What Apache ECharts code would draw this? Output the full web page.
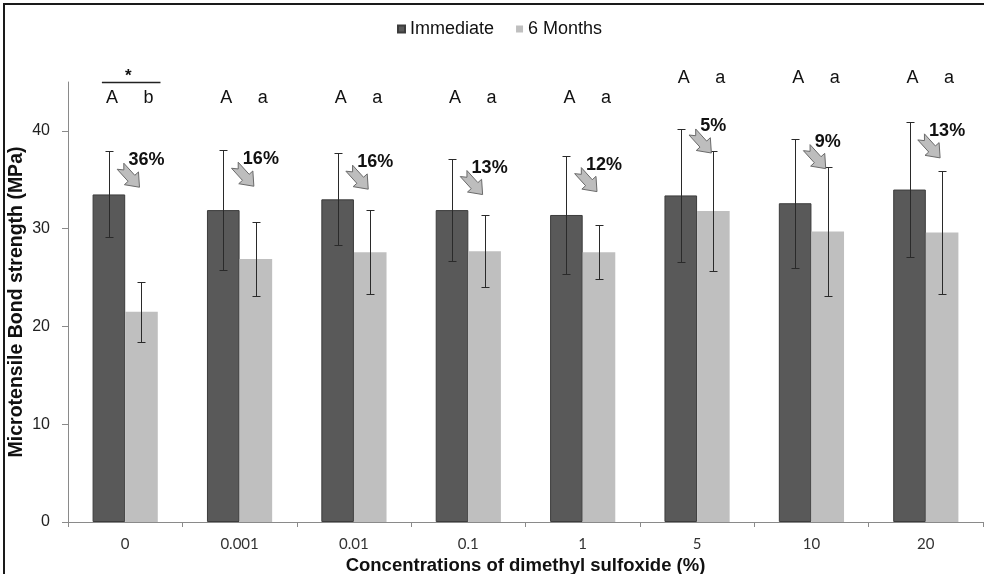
<!DOCTYPE html>
<html>
<head>
<meta charset="utf-8">
<script src="https://cdn.jsdelivr.net/npm/echarts@6/dist/echarts.min.js"></script>
<style>
  html, body { margin: 0; padding: 0; background: #fff; }
  #chart { width: 984px; height: 574px; }
</style>
</head>
<body>
<div id="chart"></div>
<script>
// Microtensile bond strength (MPa) per DMSO concentration, mean and SD
const categories = ['0', '0.001', '0.01', '0.1', '1', '5', '10', '20'];
const immediateMean = [33.5, 31.9, 33.0, 31.9, 31.4, 33.4, 32.6, 34.0];
const immediateSD = [4.4, 6.1, 4.7, 5.25, 6.05, 6.8, 6.6, 6.9];
const monthsMean = [21.5, 26.9, 27.6, 27.7, 27.6, 31.8, 29.7, 29.6];
const monthsSD = [3.05, 3.8, 4.3, 3.7, 2.75, 6.1, 6.6, 6.3];
// reduction after ageing, and statistical grouping letters
const reductionLabels = ['36%', '16%', '16%', '13%', '12%', '5%', '9%', '13%'];
const immediateGroups = ['A', 'A', 'A', 'A', 'A', 'A', 'A', 'A'];
const monthsGroups = ['b', 'a', 'a', 'a', 'a', 'a', 'a', 'a'];
const yTicks = [0, 10, 20, 30, 40];

const DARK = '#595959';
const LIGHT = '#bfbfbf';
const CAT_GAP = 0.43;
const FONT = '"Liberation Sans", Arial, sans-serif';

function barGeometry(api, i) {
  const band = api.size([1, 0])[0];
  const barW = band * (1 - CAT_GAP) / 2;
  const cx = api.coord([i, 0])[0];
  return { barW, darkX: cx - barW / 2, lightX: cx + barW / 2 };
}

function errorBars(name, means, sds, side) {
  return {
    type: 'custom',
    name: name,
    silent: true,
    clip: false,
    z: 5,
    data: means.map((m, i) => [i, m, sds[i]]),
    encode: { x: 0, y: 1 },
    renderItem(params, api) {
      const i = api.value(0), m = api.value(1), sd = api.value(2);
      const g = barGeometry(api, i);
      const x = Math.round(side < 0 ? g.darkX : g.lightX) + 0.5;
      const top = Math.round(api.coord([i, m + sd])[1]) + 0.5;
      const bot = Math.round(api.coord([i, m - sd])[1]) + 0.5;
      const cap = 4;
      const st = { stroke: '#2a2a2a', lineWidth: 1 };
      return {
        type: 'group',
        children: [
          { type: 'line', shape: { x1: x, y1: top, x2: x, y2: bot }, style: st },
          { type: 'line', shape: { x1: x - cap, y1: top, x2: x + cap, y2: top }, style: st },
          { type: 'line', shape: { x1: x - cap, y1: bot, x2: x + cap, y2: bot }, style: st }
        ]
      };
    }
  };
}

function arrowPoints(sx, sy, tx, ty) {
  const dx = tx - sx, dy = ty - sy;
  const L = Math.sqrt(dx * dx + dy * dy);
  const ux = dx / L, uy = dy / L, nx = -uy, ny = ux;
  const P = (a, b) => [sx + ux * a + nx * b, sy + uy * a + ny * b];
  const h = 12, sw = 4.5, hw = 9.5;
  return [P(0, -sw), P(L - h, -sw), P(L - h, -hw), P(L, 0), P(L - h, hw), P(L - h, sw), P(0, sw), P(5, 0)];
}

const annotations = {
  type: 'custom',
  name: 'annotations',
  silent: true,
  clip: false,
  z: 10,
  data: categories.map((c, i) => [i, 0]),
  encode: { x: 0, y: 1 },
  renderItem(params, api) {
    const i = api.value(0);
    const g = barGeometry(api, i);
    const darkUp = immediateMean[i] + immediateSD[i];
    const lightUp = monthsMean[i] + monthsSD[i];
    const children = [];

    // percentage drop with arrow pointing to the aged bar
    const labelVal = Math.max(darkUp - 0.9, lightUp + 2.6);
    const ly = api.coord([i, labelVal])[1];
    const lc = g.lightX;
    children.push({
      type: 'polygon',
      shape: { points: arrowPoints(lc - 21, ly + 6, lc - 2, ly + 27) },
      style: { fill: '#bdbdbd', stroke: '#6a6a6a', lineWidth: 1 }
    });
    children.push({
      type: 'text',
      style: {
        text: reductionLabels[i], x: lc - 13, y: ly, fill: '#111',
        font: 'bold 18px ' + FONT, align: 'left', verticalAlign: 'middle'
      }
    });

    // grouping letters sit on one of two rows depending on error bar reach
    const rowVal = Math.max(darkUp, lightUp) > 39 ? 45.4 : 43.4;
    const letterY = api.coord([i, rowVal])[1];
    const ax = g.darkX + 3, bx = g.lightX + 7;
    children.push({
      type: 'text',
      style: { text: immediateGroups[i], x: ax, y: letterY, fill: '#111',
        font: '18px ' + FONT, align: 'center', verticalAlign: 'middle' }
    });
    children.push({
      type: 'text',
      style: { text: monthsGroups[i], x: bx, y: letterY, fill: '#111',
        font: '18px ' + FONT, align: 'center', verticalAlign: 'middle' }
    });

    // significant difference between storage times
    if (immediateGroups[i].toLowerCase() !== monthsGroups[i].toLowerCase()) {
      const lineY = Math.round(letterY - 16) + 0.5;
      const x1 = ax - 10, x2 = bx + 12;
      children.push({
        type: 'line', shape: { x1: x1, y1: lineY, x2: x2, y2: lineY },
        style: { stroke: '#222', lineWidth: 1.5 }
      });
      children.push({
        type: 'text',
        style: { text: '*', x: (x1 + x2) / 2 - 3, y: lineY - 6, fill: '#111',
          font: 'bold 17px ' + FONT, align: 'center', verticalAlign: 'middle' }
      });
    }
    return { type: 'group', children: children };
  }
};

const chart = echarts.init(document.getElementById('chart'), null, { renderer: 'canvas' });
chart.setOption({
  animation: false,
  backgroundColor: '#fff',
  graphic: [{
    type: 'rect', silent: true, z: 100,
    shape: { x: 4, y: 4, width: 1000, height: 600 },
    style: { fill: 'none', stroke: '#1a1a1a', lineWidth: 2 }
  }],
  legend: {
    data: ['Immediate', '6 Months'],
    left: 392, top: 15,
    icon: 'rect', itemWidth: 7, itemHeight: 7, itemGap: 22,
    textStyle: { fontFamily: FONT, fontSize: 18, color: '#111', padding: [0, 0, 0, 0] },
    selectedMode: false
  },
  grid: { left: 68, right: 1, top: 82, bottom: 52, outerBoundsMode: 'none' },
  xAxis: {
    type: 'category',
    data: categories,
    name: 'Concentrations of dimethyl sulfoxide (%)',
    nameLocation: 'middle',
    nameGap: 34,
    nameMoveOverlap: false,
    nameTextStyle: { fontFamily: FONT, fontWeight: 'bold', fontSize: 18.5, color: '#111' },
    axisLine: { lineStyle: { color: '#8a8a8a', width: 1 } },
    axisTick: { show: true, length: 5, lineStyle: { color: '#8a8a8a' } },
    axisLabel: { fontFamily: 'Lato, "Open Sans", sans-serif', fontSize: 15, color: '#333', margin: 15 }
  },
  yAxis: {
    type: 'value',
    min: 0, max: 45, interval: 10,
    name: 'Microtensile Bond strength (MPa)',
    nameLocation: 'middle',
    nameGap: 41,
    nameMoveOverlap: false,
    nameTextStyle: { fontFamily: FONT, fontWeight: 'bold', fontSize: 19.5, color: '#111' },
    axisLine: { show: true, lineStyle: { color: '#8a8a8a', width: 1 } },
    axisTick: { show: true, length: 6, customValues: yTicks, lineStyle: { color: '#8a8a8a' } },
    axisLabel: { fontFamily: FONT, fontSize: 16, color: '#222', margin: 18, customValues: yTicks },
    splitLine: { show: false }
  },
  series: [
    {
      type: 'bar', name: 'Immediate', data: immediateMean,
      barGap: '0%', barCategoryGap: (CAT_GAP * 100) + '%',
      itemStyle: { color: DARK, borderColor: '#3c3c3c', borderWidth: 1 }
    },
    {
      type: 'bar', name: '6 Months', data: monthsMean,
      barGap: '0%', barCategoryGap: (CAT_GAP * 100) + '%',
      itemStyle: { color: LIGHT }
    },
    errorBars('Immediate SD', immediateMean, immediateSD, -1),
    errorBars('6 Months SD', monthsMean, monthsSD, 1),
    annotations
  ]
});
</script>
</body>
</html>
